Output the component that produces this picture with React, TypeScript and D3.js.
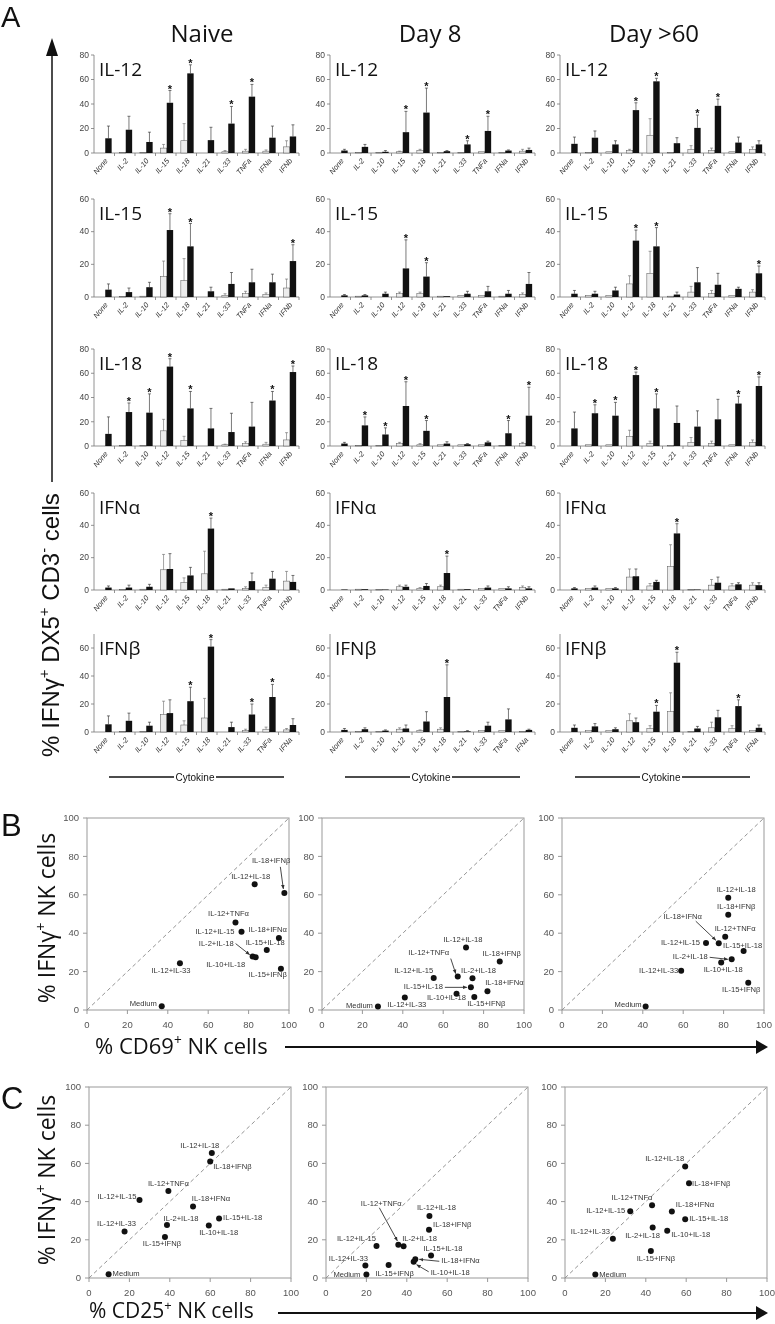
import React from 'react';
import * as d3 from 'd3';

// ---------------- DATA ----------------
const TIMEPOINTS = ['Naive', 'Day 8', 'Day >60'];

// Panel A: categories (second cytokine) for each row
const IL12_CATS = ['None', 'IL-2', 'IL-10', 'IL-15', 'IL-18', 'IL-21', 'IL-33', 'TNFa', 'IFNa', 'IFNb'];
const IL15_CATS = ['None', 'IL-2', 'IL-10', 'IL-12', 'IL-18', 'IL-21', 'IL-33', 'TNFa', 'IFNa', 'IFNb'];
const IL18_CATS = ['None', 'IL-2', 'IL-10', 'IL-12', 'IL-15', 'IL-21', 'IL-33', 'TNFa', 'IFNa', 'IFNb'];
const IFNA_CATS = ['None', 'IL-2', 'IL-10', 'IL-12', 'IL-15', 'IL-18', 'IL-21', 'IL-33', 'TNFa', 'IFNb'];
const IFNB_CATS = ['None', 'IL-2', 'IL-10', 'IL-12', 'IL-15', 'IL-18', 'IL-21', 'IL-33', 'TNFa', 'IFNa'];

// each: [Naive, Day 8, Day >60]
const IL12_LIGHT = [
  [0, 0.5, 0.5, 4, 10, 0, 1, 1.5, 1.5, 5],
  [0, 0.5, 0.5, 1, 2, 0.5, 0.5, 1, 0.5, 1.5],
  [0, 0.5, 1, 2, 14.5, 0.5, 3, 2, 1, 3],
];
const IL12_LIGHT_SD = [
  [0, 0, 0, 3, 14, 0, 1, 1.5, 1, 5],
  [0, 0, 0, 0.5, 1, 0, 0, 0, 0, 1.5],
  [0, 0, 0, 1, 13.5, 0, 3, 2, 0, 2],
];
const IL12_DARK = [
  [12, 19, 9, 41, 65, 10.5, 24, 46, 12.5, 13.5],
  [2, 5, 1, 17, 33, 1.5, 7, 18, 2, 2.5],
  [7.5, 12.5, 7, 35, 58.5, 8, 20.5, 38.5, 8.5, 7],
];
const IL12_DARK_SD = [
  [10, 11, 8, 10, 7, 10.5, 14, 10, 9.5, 9.5],
  [1, 2, 1, 17, 20, 0.5, 3, 12, 0.5, 1.5],
  [5.5, 5.5, 3, 6, 2.5, 4.5, 10.5, 5.5, 4.5, 3],
];
const IL12_STARS = [
  [0, 0, 0, 1, 1, 0, 1, 1, 0, 0],
  [0, 0, 0, 1, 1, 0, 1, 1, 0, 0],
  [0, 0, 0, 1, 1, 0, 1, 1, 0, 0],
];

const IL15_LIGHT = [
  [0, 0.3, 0.5, 12.5, 10, 0, 1, 2, 1.5, 5.5],
  [0, 0.5, 0, 2, 2, 0.5, 1, 1, 0.5, 1.5],
  [0, 1, 1, 8, 14.5, 0.5, 3, 2, 1, 3],
];
const IL15_LIGHT_SD = [
  [0, 0, 0, 9.5, 13.5, 0, 1, 1.5, 1, 5.5],
  [0, 0, 0, 1, 1, 0, 0, 0, 0, 1],
  [0, 0, 0, 5, 13.5, 0, 3.5, 2, 0, 1.5],
];
const IL15_DARK = [
  [4.5, 3, 6, 41, 31, 3.5, 8, 9, 9, 22],
  [1, 1, 2, 17.5, 12.5, 0.5, 2, 3.5, 2, 8],
  [2, 2, 4, 34.5, 31, 1.5, 9, 7.5, 5, 14.5],
];
const IL15_DARK_SD = [
  [3.5, 2.5, 3, 10, 14, 2.5, 7, 8, 5, 10],
  [0.5, 0.5, 1, 17.5, 8.5, 0, 1.5, 3, 2, 7],
  [2, 1.5, 2, 6.5, 11.5, 1.5, 9, 7, 1, 4.5],
];
const IL15_STARS = [
  [0, 0, 0, 1, 1, 0, 0, 0, 0, 1],
  [0, 0, 0, 1, 1, 0, 0, 0, 0, 0],
  [0, 0, 0, 1, 1, 0, 0, 0, 0, 1],
];

const IL18_LIGHT = [
  [0, 0.3, 0.5, 12.5, 4.5, 0, 1, 2, 1.5, 5],
  [0, 0.5, 0.3, 2, 1, 1, 1, 1, 0.5, 2],
  [0, 1, 1, 8, 2, 0.5, 3, 2, 1, 3],
];
const IL18_LIGHT_SD = [
  [0, 0, 0, 9.5, 3.5, 0, 0.5, 1.5, 1.5, 6],
  [0, 0, 0, 1, 1, 0, 0, 0, 0, 1],
  [0, 0, 0, 5, 2, 0, 4, 2, 0, 2],
];
const IL18_DARK = [
  [10, 28, 27.5, 65.5, 31, 14.5, 11.5, 16, 37.5, 61],
  [2, 17, 9.5, 33, 12.5, 2, 1.5, 3, 10.5, 25],
  [14.5, 27, 25, 58.5, 31, 19, 16, 22, 35, 49.5],
];
const IL18_DARK_SD = [
  [14, 7.5, 15.5, 6.5, 14, 16.5, 15.5, 20, 7.5, 5],
  [1, 7, 5.5, 20, 8.5, 1.5, 0.5, 1, 10.5, 23.5],
  [13.5, 7, 11, 2.5, 12, 14, 13, 16.5, 6, 7.5],
];
const IL18_STARS = [
  [0, 1, 1, 1, 1, 0, 0, 0, 1, 1],
  [0, 1, 1, 1, 1, 0, 0, 0, 1, 1],
  [0, 1, 1, 1, 1, 0, 0, 0, 1, 1],
];

const IFNA_LIGHT = [
  [0, 0.3, 0.5, 12.5, 4.5, 10, 0.5, 1, 1.5, 5.5],
  [0, 0.5, 0.3, 2, 1, 2, 0.5, 1, 1, 1.5],
  [0, 1, 1, 8, 2.5, 14.5, 0.3, 3, 2.5, 3],
];
const IFNA_LIGHT_SD = [
  [0, 0, 0, 9.5, 3, 14, 0, 1, 1.5, 6],
  [0, 0, 0, 1, 0.5, 1, 0, 0, 0, 1],
  [0, 0, 0, 5, 1.5, 13.5, 0, 3.5, 1.5, 1.5],
];
const IFNA_DARK = [
  [1.5, 1.5, 2, 13, 9, 38, 1, 5.5, 7, 5],
  [0.3, 0.5, 0.3, 2, 2.5, 10.5, 0.5, 1.5, 1, 1],
  [1, 1.5, 1, 8.5, 5, 35, 0.3, 4.5, 3.5, 3],
];
const IFNA_DARK_SD = [
  [1, 1.5, 1.5, 9.5, 5, 6.5, 0, 5, 4.5, 4],
  [0, 0, 0, 1, 1.5, 10.5, 0, 1, 1, 1],
  [0.5, 1, 0.5, 4.5, 1, 6, 0, 3.5, 1, 1.5],
];
const IFNA_STARS = [
  [0, 0, 0, 0, 0, 1, 0, 0, 0, 0],
  [0, 0, 0, 0, 0, 1, 0, 0, 0, 0],
  [0, 0, 0, 0, 0, 1, 0, 0, 0, 0],
];

const IFNB_LIGHT = [
  [0, 0.3, 0.5, 12.5, 5, 10, 0, 1, 2, 1.5],
  [0, 0.5, 0.5, 2, 1, 2, 0.5, 1, 1, 0.3],
  [0, 1, 1, 8, 2.5, 14.5, 0.5, 3, 2.5, 1],
];
const IFNB_LIGHT_SD = [
  [0, 0, 0, 9.5, 3, 14, 0, 1, 1.5, 1],
  [0, 0, 0, 1, 0.5, 1, 0, 0, 0, 0],
  [0, 0, 0, 5, 2, 13.5, 0, 4, 2, 0],
];
const IFNB_DARK = [
  [5.5, 8, 4.5, 13.5, 22, 61, 3.5, 12.5, 25, 5],
  [1.5, 2, 1, 2.5, 7.5, 25, 0.5, 4.5, 9, 1.5],
  [3, 4, 2, 7, 14.5, 49.5, 2.5, 10.5, 18.5, 3],
];
const IFNB_DARK_SD = [
  [6, 5.5, 2.5, 9.5, 10, 5, 3.5, 7.5, 9, 4.5],
  [1, 1, 0.5, 2.5, 7, 23, 0.5, 2.5, 7.5, 0.5],
  [2, 2, 1, 3, 4.5, 7.5, 1.5, 5, 4.5, 2],
];
const IFNB_STARS = [
  [0, 0, 0, 0, 1, 1, 0, 1, 1, 0],
  [0, 0, 0, 0, 0, 1, 0, 0, 0, 0],
  [0, 0, 0, 0, 1, 1, 0, 0, 1, 0],
];

const ROW_NAMES = ['IL-12', 'IL-15', 'IL-18', 'IFNα', 'IFNβ'];
const ROW_YMAX = [80, 60, 80, 60, 70];
const ROW_TICKS = [
  [0, 20, 40, 60, 80],
  [0, 20, 40, 60],
  [0, 20, 40, 60, 80],
  [0, 20, 40, 60],
  [0, 20, 40, 60],
];

// Panels B and C
const COMBOS = ['Medium', 'IL-12+IL-33', 'IL-12+IL-15', 'IL-12+TNFα', 'IL-2+IL-18', 'IL-10+IL-18',
  'IL-15+IL-18', 'IL-18+IFNα', 'IL-15+IFNβ', 'IL-12+IL-18', 'IL-18+IFNβ'];
const IFNG_NAIVE = [2, 24.4, 40.8, 45.6, 27.8, 27.5, 31.2, 37.5, 21.5, 65.5, 61];
const IFNG_DAY8 = [1.8, 6.5, 16.7, 17.4, 16.6, 8.5, 11.8, 9.8, 6.8, 32.5, 25.2];
const IFNG_DAY60 = [1.8, 20.5, 34.9, 38.1, 26.4, 24.8, 30.7, 34.8, 14.2, 58.4, 49.6];
const CD69_NAIVE = [37, 46, 76.5, 73.5, 82, 83.5, 89, 95, 96, 83, 97.7];
const CD69_DAY8 = [27.7, 41, 55.3, 67.2, 74.5, 66.6, 73.7, 81.9, 75.4, 71.3, 88];
const CD69_DAY60 = [41.4, 59, 71.3, 80.8, 84, 78.8, 89.9, 77.6, 92.2, 82.3, 82.3];
const CD25_NAIVE = [9.7, 17.6, 25, 39.3, 38.6, 59.3, 64.4, 51.5, 37.6, 60.8, 60];
const CD25_DAY8 = [20, 19.5, 25, 35.8, 38.4, 43.4, 52, 44.2, 31, 51.2, 51];
const CD25_DAY60 = [15, 23.7, 32.3, 43.1, 43.4, 50.6, 59.5, 52.9, 42.5, 59.5, 61.4];
const SCATTER_TICKS = [0, 20, 40, 60, 80, 100];

// ---------------- LAYOUT ----------------
const SANS = "'Open Sans', 'Noto Sans', sans-serif";
const ARIAL = "'Liberation Sans', Arial, sans-serif";
const NARROW = "'Liberation Sans Narrow', 'Liberation Sans', Arial, sans-serif";

const A_COL_X = [94, 330, 560];
const A_PLOT_W = 205;
const A_ROW_Y = [[55, 153], [199, 297], [349, 446], [493, 590], [634, 732]];
const TITLE_X = [202, 430, 654];

const B_X = [87, 322, 562];
const C_X = [89, 326, 565];
const SC_W = 202;

// label layouts: [dx, dy, anchor, arrow start dx, dy, arrow end dx, dy]
type Lab = [number, number, string, number?, number?, number?, number?];
const B_LAB: Lab[][] = [
  [[-5, 0, 'end'], [-9, 10, 'middle'], [-7, 2, 'end'], [-7, -6, 'middle'], [-19, -11, 'end', -17, -13, -3, -2],
   [-30, 10, 'middle'], [18, -5, 'end'], [8, -6, 'end'], [6, 8, 'end'], [-4, -5, 'middle'], [6, -30, 'end', -4, -26, -1, -4]],
  [[-5, 1, 'end'], [2, 9, 'middle'], [-20, -5, 'middle'], [-29, -22, 'middle', -7, -18, -2, -3], [6, -5, 'middle'],
   [-10, 6, 'middle'], [-28, 2, 'end', -26, 0, -4, 0], [17, -6, 'middle'], [12, 9, 'middle'], [-3, -6, 'middle'], [2, -6, 'middle']],
  [[-4, 0, 'end'], [-3, 2, 'end'], [-6, 2, 'end'], [10, -6, 'middle'], [-24, 0, 'end', -22, -2, -4, 0],
   [2, 10, 'middle'], [-1, -3, 'middle'], [-36, -24, 'middle', -23, -22, -3, -3], [-7, 9, 'middle'], [8, -6, 'middle'], [8, -6, 'middle']],
];
const C_LAB: Lab[][] = [
  [[4, 2, 'start'], [-8, -5, 'middle'], [-3, -1, 'end'], [0, -5, 'middle'], [14, -4, 'middle'],
   [10, 10, 'middle'], [4, 2, 'start'], [18, -5, 'middle'], [-3, 9, 'middle'], [-12, -5, 'middle'], [3, 8, 'start']],
  [[-6, 2, 'end'], [-17, -5, 'middle'], [-20, -5, 'middle'], [-17, -39, 'middle', -19, -37, -1, -4], [16, -5, 'middle'],
   [17, 13, 'start', 15, 10, 3, 3], [12, -4, 'middle'], [26, 4, 'start', 24, 2, 4, 0], [6, 11, 'middle'], [7, -6, 'middle'], [4, -3, 'start']],
  [[4, 2, 'start'], [-3, -5, 'end'], [-5, 2, 'end'], [-20, -5, 'middle'], [-10, 10, 'middle'],
   [4, 6, 'start'], [4, 2, 'start'], [4, -5, 'start'], [5, 10, 'middle'], [-1, -5, 'end'], [3, 3, 'start']],
];

const ROWS = [
  { cats: IL12_CATS, light: IL12_LIGHT, lightSd: IL12_LIGHT_SD, dark: IL12_DARK, darkSd: IL12_DARK_SD, stars: IL12_STARS },
  { cats: IL15_CATS, light: IL15_LIGHT, lightSd: IL15_LIGHT_SD, dark: IL15_DARK, darkSd: IL15_DARK_SD, stars: IL15_STARS },
  { cats: IL18_CATS, light: IL18_LIGHT, lightSd: IL18_LIGHT_SD, dark: IL18_DARK, darkSd: IL18_DARK_SD, stars: IL18_STARS },
  { cats: IFNA_CATS, light: IFNA_LIGHT, lightSd: IFNA_LIGHT_SD, dark: IFNA_DARK, darkSd: IFNA_DARK_SD, stars: IFNA_STARS },
  { cats: IFNB_CATS, light: IFNB_LIGHT, lightSd: IFNB_LIGHT_SD, dark: IFNB_DARK, darkSd: IFNB_DARK_SD, stars: IFNB_STARS },
];

function BarChart({ row, col }: { row: number; col: number }) {
  const r = ROWS[row];
  const x0 = A_COL_X[col];
  const x1 = x0 + A_PLOT_W;
  const [yt, yb] = A_ROW_Y[row];
  const x = d3.scaleBand<string>().domain(r.cats).range([x0, x1]);
  const y = d3.scaleLinear().domain([0, ROW_YMAX[row]]).range([yb, yt]);
  const bw = 6.4;
  const light = r.light[col], lightSd = r.lightSd[col], dark = r.dark[col], darkSd = r.darkSd[col], stars = r.stars[col];
  return (
    <g>
      <line x1={x0} x2={x0} y1={yt} y2={yb} stroke="#777" strokeWidth={0.8} />
      {ROW_TICKS[row].map((t) => (
        <g key={t}>
          <line x1={x0 - 3} x2={x0} y1={y(t)} y2={y(t)} stroke="#777" strokeWidth={0.8} />
          <text x={x0 - 5} y={y(t)} dy="0.33em" textAnchor="end" fontSize={8.5} fill="#444" fontFamily={NARROW}>{t}</text>
        </g>
      ))}
      <line x1={x0} x2={x1} y1={yb} y2={yb} stroke="#777" strokeWidth={0.8} />
      {r.cats.map((c) => (
        <line key={'t' + c} x1={(x(c) as number) + x.bandwidth()} x2={(x(c) as number) + x.bandwidth()} y1={yb} y2={yb + 3} stroke="#777" strokeWidth={0.8} />
      ))}
      {r.cats.map((c, i) => {
        const cx = (x(c) as number) + x.bandwidth() / 2 + 1;
        const lx = cx - bw;
        const dx = cx;
        const lTop = y(light[i] + lightSd[i]);
        const dTop = y(dark[i] + darkSd[i]);
        return (
          <g key={c}>
            {light[i] > 0 && (
              <rect x={lx} y={y(light[i])} width={bw} height={yb - y(light[i])} fill="#ececec" stroke="#555" strokeWidth={0.5} />
            )}
            {lightSd[i] > 0 && (
              <g stroke="#666" strokeWidth={0.6}>
                <line x1={lx + bw / 2} x2={lx + bw / 2} y1={y(light[i])} y2={lTop} />
                <line x1={lx + bw / 2 - 1.5} x2={lx + bw / 2 + 1.5} y1={lTop} y2={lTop} />
              </g>
            )}
            <rect x={dx} y={y(dark[i])} width={bw} height={yb - y(dark[i])} fill="#111" />
            {darkSd[i] > 0 && (
              <g stroke="#222" strokeWidth={0.6}>
                <line x1={dx + bw / 2} x2={dx + bw / 2} y1={y(dark[i])} y2={dTop} />
                <line x1={dx + bw / 2 - 1.5} x2={dx + bw / 2 + 1.5} y1={dTop} y2={dTop} />
              </g>
            )}
            {stars[i] === 1 && (
              <text x={dx + bw / 2} y={dTop + 2} textAnchor="middle" fontSize={11} fontWeight="bold" fill="#111" fontFamily={ARIAL}>*</text>
            )}
            <text transform={`translate(${cx + 3},${yb + 8}) rotate(-50)`} textAnchor="end" fontSize={7.5} fontStyle="italic" fill="#333" fontFamily={NARROW}>{c}</text>
          </g>
        );
      })}
      <text x={x0 + 5} y={yt + 21} fontSize={19} fill="#111" fontFamily={SANS}>{ROW_NAMES[row]}</text>
    </g>
  );
}

function Scatter({ x0, yTop, h, xs, ys, labs }: { x0: number; yTop: number; h: number; xs: number[]; ys: number[]; labs: Lab[] }) {
  const x = d3.scaleLinear().domain([0, 100]).range([x0, x0 + SC_W]);
  const y = d3.scaleLinear().domain([0, 100]).range([yTop + h, yTop]);
  return (
    <g>
      <rect x={x0} y={yTop} width={SC_W} height={h} fill="none" stroke="#999" strokeWidth={1} />
      <line x1={x(0)} y1={y(0)} x2={x(100)} y2={y(100)} stroke="#888" strokeWidth={0.9} strokeDasharray="4,3" />
      {SCATTER_TICKS.map((t) => (
        <g key={t}>
          <line x1={x0 - 4} x2={x0} y1={y(t)} y2={y(t)} stroke="#999" />
          <text x={x0 - 8} y={y(t)} dy="0.33em" textAnchor="end" fontSize={9.5} fill="#555" fontFamily={ARIAL}>{t}</text>
          <line x1={x(t)} x2={x(t)} y1={yTop + h} y2={yTop + h + 4} stroke="#999" />
          <text x={x(t)} y={yTop + h + 18} textAnchor="middle" fontSize={9.5} fill="#555" fontFamily={ARIAL}>{t}</text>
        </g>
      ))}
      {COMBOS.map((c, i) => {
        const px = x(xs[i]);
        const py = y(ys[i]);
        const l = labs[i];
        return (
          <g key={c}>
            <circle cx={px} cy={py} r={3} fill="#111" />
            <text x={px + l[0]} y={py + l[1]} textAnchor={l[2] as any} fontSize={7.6} fill="#333" fontFamily={ARIAL}>{c}</text>
            {l[3] !== undefined && (
              <line x1={px + (l[3] as number)} y1={py + (l[4] as number)} x2={px + (l[5] as number)} y2={py + (l[6] as number)}
                stroke="#333" strokeWidth={0.9} markerEnd="url(#ah)" />
            )}
          </g>
        );
      })}
    </g>
  );
}

// superscript with an absolute shift (px) so the baseline returns exactly
function Sup({ children, shift }: { children: string; shift: number }) {
  return <tspan dy={-shift} fontSize="0.62em">{children}</tspan>;
}

export default function App() {
  const bCols = [[CD69_NAIVE, IFNG_NAIVE], [CD69_DAY8, IFNG_DAY8], [CD69_DAY60, IFNG_DAY60]];
  const cCols = [[CD25_NAIVE, IFNG_NAIVE], [CD25_DAY8, IFNG_DAY8], [CD25_DAY60, IFNG_DAY60]];
  return (
    <svg width={775} height={1324} viewBox="0 0 775 1324" style={{ position: 'absolute', left: 0, top: 0, background: '#fff', filter: 'grayscale(1)' }}>
      <defs>
        <marker id="ah" viewBox="0 0 10 10" refX="9" refY="5" markerWidth="5" markerHeight="5" orient="auto">
          <path d="M0,1 L10,5 L0,9 z" fill="#333" />
        </marker>
      </defs>
      <rect x={0} y={0} width={775} height={1324} fill="#fff" />

      {/* Panel A */}
      <text x={1} y={27} fontSize={29} fontFamily={ARIAL} fill="#111">A</text>
      {TIMEPOINTS.map((t, i) => (
        <text key={t} x={TITLE_X[i]} y={42} textAnchor="middle" fontSize={24} fontFamily={SANS} fill="#111">{t}</text>
      ))}
      <line x1={52} x2={52} y1={54} y2={482} stroke="#111" strokeWidth={1.5} />
      <polygon points="52,38 46,56 58,56" fill="#111" />
      <text transform="translate(59,625) rotate(-90)" textAnchor="middle" fontSize={24} fontFamily={ARIAL} fill="#111">
        % IFNγ<Sup shift={10}>+</Sup><tspan dy={10}> DX5</tspan><Sup shift={10}>+</Sup><tspan dy={10}> CD3</tspan><Sup shift={10}>-</Sup><tspan dy={10}> cells</tspan>
      </text>
      {ROWS.map((_, r) => [0, 1, 2].map((c) => <BarChart key={r + '-' + c} row={r} col={c} />))}
      {A_COL_X.map((x0) => (
        <g key={'cyt' + x0}>
          <line x1={x0 + 15} x2={x0 + 80} y1={777} y2={777} stroke="#111" strokeWidth={1.4} />
          <line x1={x0 + 122} x2={x0 + 190} y1={777} y2={777} stroke="#111" strokeWidth={1.4} />
          <text x={x0 + 101} y={780.5} textAnchor="middle" fontSize={10} fontFamily={ARIAL} fill="#111">Cytokine</text>
        </g>
      ))}

      {/* Panel B */}
      <text x={1} y={836} fontSize={31} fontFamily={ARIAL} fill="#111">B</text>
      <text transform="translate(55,918) rotate(-90)" textAnchor="middle" fontSize={23} fontFamily={SANS} fill="#111">
        % IFNγ<Sup shift={9.5}>+</Sup><tspan dy={9.5}> NK cells</tspan>
      </text>
      {bCols.map(([xs, ys], i) => (
        <Scatter key={'b' + i} x0={B_X[i]} yTop={818} h={192} xs={xs} ys={ys} labs={B_LAB[i]} />
      ))}
      <text x={95} y={1054} fontSize={22} fontFamily={SANS} fill="#111">
        % CD69<Sup shift={9}>+</Sup><tspan dy={9}> NK cells</tspan>
      </text>
      <line x1={285} x2={758} y1={1047} y2={1047} stroke="#111" strokeWidth={1.8} />
      <polygon points="756,1040 768,1047 756,1054" fill="#111" />

      {/* Panel C */}
      <text x={1} y={1109} fontSize={31} fontFamily={ARIAL} fill="#111">C</text>
      <text transform="translate(55,1180) rotate(-90)" textAnchor="middle" fontSize={23} fontFamily={SANS} fill="#111">
        % IFNγ<Sup shift={9.5}>+</Sup><tspan dy={9.5}> NK cells</tspan>
      </text>
      {cCols.map(([xs, ys], i) => (
        <Scatter key={'c' + i} x0={C_X[i]} yTop={1087} h={191} xs={xs} ys={ys} labs={C_LAB[i]} />
      ))}
      <text x={89} y={1318} fontSize={21} fontFamily={SANS} fill="#111">
        % CD25<Sup shift={8.5}>+</Sup><tspan dy={8.5}> NK cells</tspan>
      </text>
      <line x1={278} x2={758} y1={1313} y2={1313} stroke="#111" strokeWidth={1.8} />
      <polygon points="756,1306 768,1313 756,1320" fill="#111" />
    </svg>
  );
}
